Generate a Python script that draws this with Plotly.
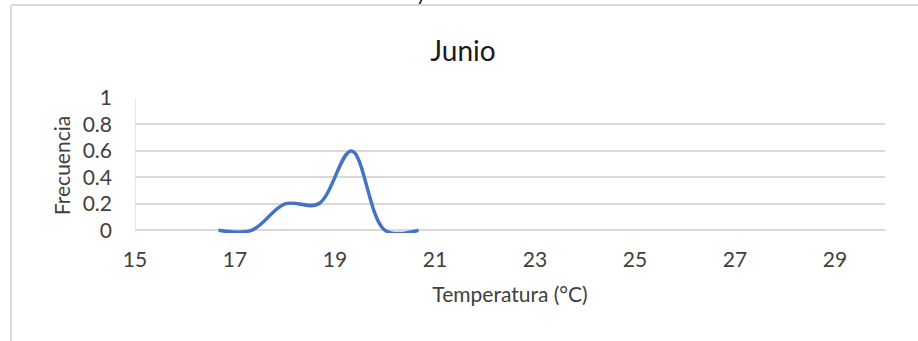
import plotly.graph_objects as go

# Temperature histogram (bin centres) and relative frequency for June
temperatura = [16.67, 17.33, 18.0, 18.67, 19.33, 20.0, 20.67]
frecuencia = [0, 0, 0.2, 0.2, 0.6, 0, 0]

x_ticks = [15, 17, 19, 21, 23, 25, 27, 29]
y_ticks = [0, 0.2, 0.4, 0.6, 0.8, 1]
y_tick_text = ["0", "0.2", "0.4", "0.6", "0.8", "1"]

FONT = "Lato, 'Open Sans', sans-serif"
GRID = "#d9d9d9"
TEXT = "#404040"

fig = go.Figure()
fig.add_trace(go.Scatter(
    x=temperatura, y=frecuencia, mode="lines",
    line=dict(color="#4472c4", width=3.5, shape="spline", smoothing=1.0),
    showlegend=False, hoverinfo="x+y",
))

W, H = 918, 341
Y_MIN = -0.02          # small headroom below zero so the line isn't clipped
L, R, T = 135, 33, 98
B = H - (230 + int(round(-Y_MIN * 132)))
pw, ph = W - L - R, H - T - B

def px_x(p):
    return (p - L) / pw

def px_y(p):
    return (H - B - p) / ph

# outer chart frame (top and left edges)
fig.add_shape(type="line", xref="paper", yref="paper",
              x0=px_x(11), x1=px_x(930), y0=px_y(5), y1=px_y(5),
              line=dict(color=GRID, width=2))
fig.add_shape(type="line", xref="paper", yref="paper",
              x0=px_x(11), x1=px_x(11), y0=px_y(5), y1=px_y(345),
              line=dict(color=GRID, width=2))
# left edge of the plot area
fig.add_shape(type="line", xref="x", yref="y", x0=15, x1=15, y0=0, y1=1,
              line=dict(color=GRID, width=1.3), layer="below")

# fragment of a caption sitting above the chart frame
fig.add_annotation(text="y", xref="paper", yref="paper",
                   x=px_x(421), y=px_y(-9), xanchor="center", yanchor="middle",
                   showarrow=False, font=dict(size=21, color="#222222", family=FONT))

fig.update_layout(
    width=W, height=H,
    margin=dict(l=L, r=R, t=T, b=B),
    paper_bgcolor="white", plot_bgcolor="white",
    font=dict(family=FONT, color=TEXT, size=21),
    title=dict(text="Junio", x=463 / W, xref="container", xanchor="center",
               y=1 - 51 / H, yref="container", yanchor="middle",
               font=dict(size=28, color="#1a1a1a", family=FONT)),
    xaxis=dict(
        range=[15, 30], tickmode="array", tickvals=x_ticks,
        ticktext=[str(v) for v in x_ticks],
        showgrid=False, zeroline=False, showline=False,
        ticks="", ticklabelstandoff=12,
        tickfont=dict(size=21, color=TEXT),
        title=dict(text="Temperatura (°C)", font=dict(size=21, color=TEXT),
                   standoff=17),
    ),
    yaxis=dict(
        range=[Y_MIN, 1], tickmode="array", tickvals=y_ticks, ticktext=y_tick_text,
        showgrid=True, gridcolor=GRID, gridwidth=2,
        zeroline=True, zerolinecolor=GRID, zerolinewidth=2,
        showline=False, ticks="", ticklabelstandoff=22,
        tickfont=dict(size=21, color=TEXT),
        title=dict(text="Frecuencia", font=dict(size=21, color=TEXT),
                   standoff=6),
    ),
)

fig.write_html("out.html")
